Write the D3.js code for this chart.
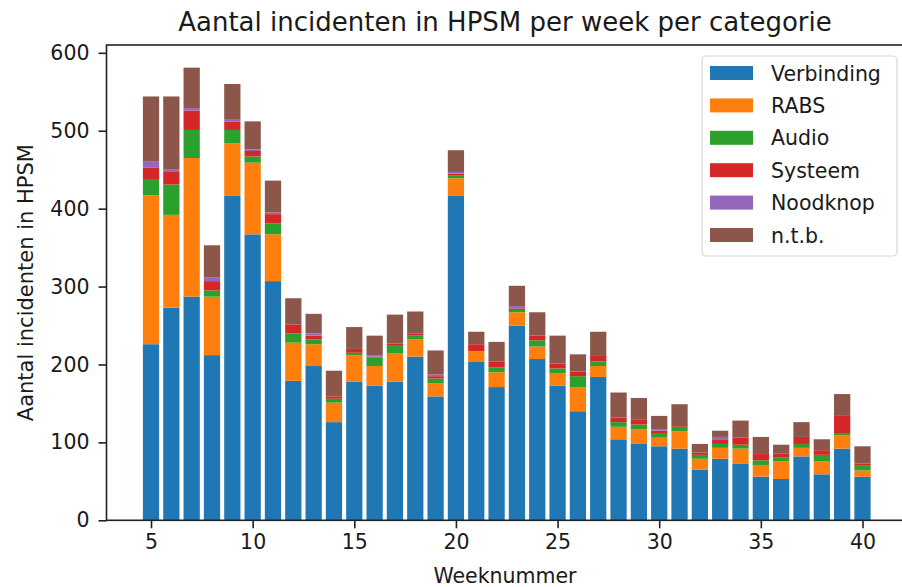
<!DOCTYPE html>
<html>
<head>
<meta charset="utf-8">
<script src="https://cdn.jsdelivr.net/npm/d3@7"></script>
<style>
  html, body { margin: 0; padding: 0; background: #fff; }
  svg { display: block; font-family: "DejaVu Sans", sans-serif; }
</style>
</head>
<body>
<svg id="chart" width="902" height="587"></svg>
<script>
const weeks = [5,6,7,8,9,10,11,12,13,14,15,16,17,18,19,20,21,22,23,24,25,26,27,28,29,30,31,32,33,34,35,36,37,38,39,40];
const categories = ["Verbinding", "RABS", "Audio", "Systeem", "Noodknop", "n.t.b."];
const verbinding = [226,273,287,212,417,367,307,179,198,126,178,173,178,210,159,417,204,171,250,207,173,140,184,104,98,95,92,65,79,73,56,53,82,59,92,56];
const rabs       = [191,119,178,75,67,92,60,49,28,25,34,25,36,22,17,22,13,19,17,16,16,31,14,16,19,11,22,14,14,19,15,23,11,17,17,8];
const audio      = [20,39,36,8,17,8,14,12,6,5,3,11,11,5,6,4,0,6,3,8,6,14,6,6,6,6,6,5,5,5,6,5,5,8,3,6];
const systeem    = [16,17,25,12,11,7,12,11,5,3,5,1,2,3,3,2,9,8,2,6,6,6,8,6,6,3,1,3,6,9,8,5,9,6,22,3];
const noodknop   = [8,2,3,5,3,2,2,0,3,0,0,2,0,0,2,2,0,0,3,0,0,0,0,0,0,2,0,0,3,0,0,0,0,0,0,0];
const ntb        = [83,94,52,41,45,36,41,34,25,33,28,25,37,28,31,28,16,25,26,30,36,22,30,32,28,17,28,11,8,22,22,11,19,14,28,22];
const xTicks = [5,10,15,20,25,30,35,40];
const yTicks = [0,100,200,300,400,500,600];
const colors = ["#1f77b4","#ff7f0e","#2ca02c","#d62728","#9467bd","#8c564b"];

const seriesValues = [verbinding, rabs, audio, systeem, noodknop, ntb];
const table = weeks.map((w, i) => {
  const row = { week: w };
  categories.forEach((c, j) => { row[c] = seriesValues[j][i]; });
  return row;
});

const svg = d3.select("#chart");
const pLeft = 106.5, pRight = 907, pTop = 45, pBottom = 520.3;
const barW = 0.8;
const xMin = d3.min(weeks) - barW / 2, xMax = d3.max(weeks) + barW / 2;
const xPad = (xMax - xMin) * 0.05;
const x = d3.scaleLinear().domain([xMin - xPad, xMax + xPad]).range([pLeft, pRight]);
const totals = table.map(r => d3.sum(categories, c => r[c]));
const y = d3.scaleLinear().domain([0, d3.max(totals) * 1.05]).range([pBottom, pTop]);

const stack = d3.stack().keys(categories)(table);
const textColor = "#1a1a1a";

svg.append("g").selectAll("g").data(stack).join("g")
  .attr("fill", (d, i) => colors[i])
  .selectAll("rect").data(d => d).join("rect")
  .attr("x", d => x(d.data.week - barW / 2))
  .attr("width", d => x(d.data.week + barW / 2) - x(d.data.week - barW / 2))
  .attr("y", d => y(d[1]))
  .attr("height", d => Math.max(0, y(d[0]) - y(d[1])));

// frame
svg.append("rect").attr("x", pLeft).attr("y", pTop)
  .attr("width", pRight - pLeft).attr("height", pBottom - pTop)
  .attr("fill", "none").attr("stroke", "#222").attr("stroke-width", 1.6);

// x axis
const xAxis = d3.axisBottom(x).tickValues(xTicks).tickSize(8).tickPadding(6).tickFormat(d3.format("d"));
const gx = svg.append("g").attr("transform", `translate(0,${pBottom})`).call(xAxis);
gx.select(".domain").remove();
gx.selectAll(".tick line").attr("stroke", "#222").attr("stroke-width", 1.6);
gx.selectAll(".tick text").attr("font-size", 20.5).attr("fill", textColor)
  .attr("font-family", "DejaVu Sans").attr("dy", "0.71em");

// y axis
const yAxis = d3.axisLeft(y).tickValues(yTicks).tickSize(8).tickPadding(9).tickFormat(d3.format("d"));
const gy = svg.append("g").attr("transform", `translate(${pLeft},0)`).call(yAxis);
gy.select(".domain").remove();
gy.selectAll(".tick line").attr("stroke", "#222").attr("stroke-width", 1.6);
gy.selectAll(".tick text").attr("font-size", 20.5).attr("fill", textColor)
  .attr("font-family", "DejaVu Sans");

// title
svg.append("text").attr("x", 505).attr("y", 31).attr("text-anchor", "middle")
  .attr("font-size", 26).attr("fill", textColor)
  .text("Aantal incidenten in HPSM per week per categorie");

// x label
svg.append("text").attr("x", 505).attr("y", 583).attr("text-anchor", "middle")
  .attr("font-size", 20.5).attr("fill", textColor).text("Weeknummer");

// y label
svg.append("text").attr("transform", `translate(33,${(pTop + pBottom) / 2}) rotate(-90)`)
  .attr("text-anchor", "middle").attr("font-size", 21).attr("fill", textColor)
  .text("Aantal incidenten in HPSM");

// legend
const lg = svg.append("g");
lg.append("rect").attr("x", 702).attr("y", 56).attr("width", 195).attr("height", 200)
  .attr("rx", 4).attr("fill", "#fff").attr("fill-opacity", 0.8)
  .attr("stroke", "#d6d6d6").attr("stroke-width", 1.2);
categories.forEach((c, i) => {
  const cy = 73 + i * 32.4;
  lg.append("rect").attr("x", 710).attr("y", cy - 7).attr("width", 43).attr("height", 14)
    .attr("fill", colors[i]);
  lg.append("text").attr("x", 771).attr("y", cy + 7.5).attr("font-size", 20.5)
    .attr("fill", textColor).text(c);
});
</script>
</body>
</html>
